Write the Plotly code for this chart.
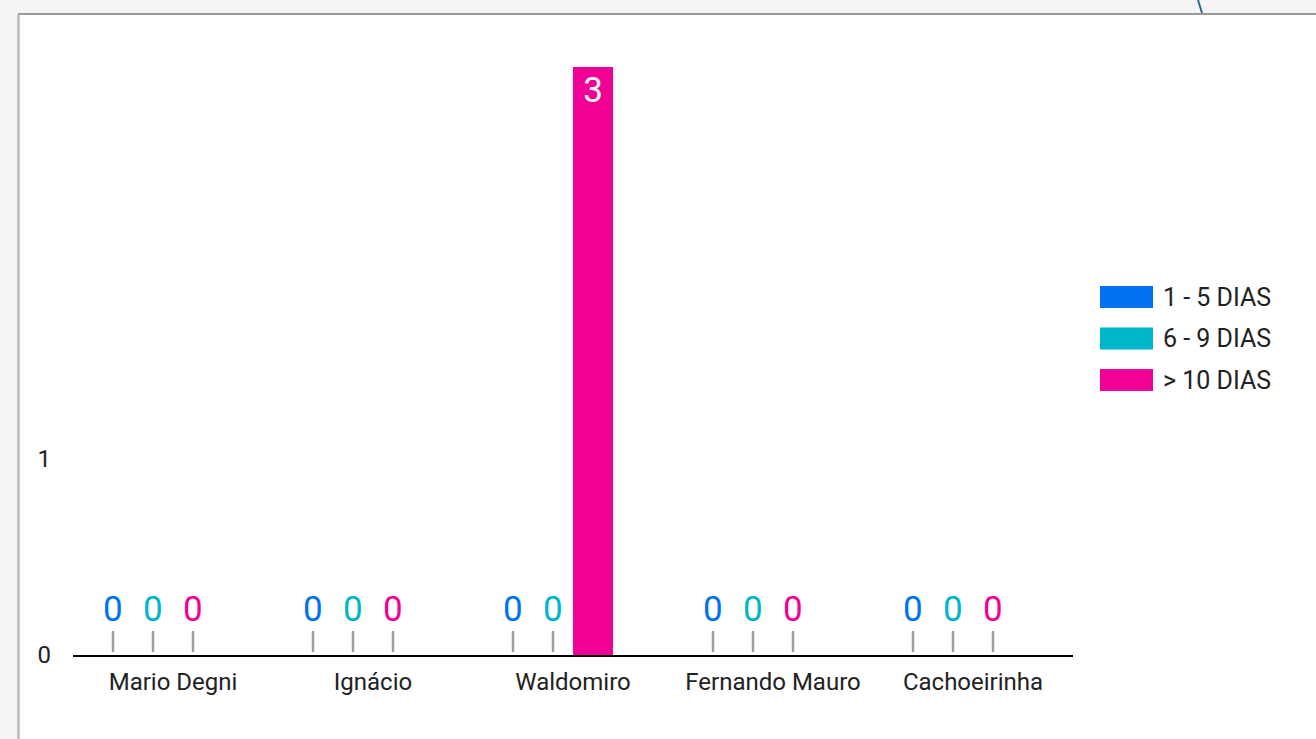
import plotly.graph_objects as go

# dados do painel
lojas = ["Mario Degni", "Ignácio", "Waldomiro", "Fernando Mauro", "Cachoeirinha"]
faixas = ["1 - 5 DIAS", "6 - 9 DIAS", "> 10 DIAS"]
dias_1_5 = [0, 0, 0, 0, 0]
dias_6_9 = [0, 0, 0, 0, 0]
dias_10_mais = [0, 0, 3, 0, 0]
cores = ["#0072f0", "#00b6cb", "#f10096"]

W, H = 1316, 739
L, R, T, B = 73, 243, 67, 84
FONT = "Roboto"


def px(x):
    return (x - L) / (W - L - R)


def py(y):
    return (H - B - y) / (H - T - B)


fig = go.Figure()
series = [dias_1_5, dias_6_9, dias_10_mais]
for nome, vals, cor in zip(faixas, series, cores):
    fig.add_trace(go.Bar(
        x=lojas, y=vals, name=nome, marker_color=cor, marker_line_width=0,
        text=[str(v) if v > 0 else "" for v in vals],
        textposition="inside", insidetextanchor="end",
        textfont=dict(color="white", size=35, family=FONT),
        showlegend=False,
    ))
# slot vazio (quarta serie sem dados)
fig.add_trace(go.Bar(x=lojas, y=[0] * len(lojas), marker_color="rgba(0,0,0,0)",
                     marker_line_width=0, showlegend=False, hoverinfo="skip"))

n_slots = 4
slot_px = 40
annotations = []
for k, (vals, cor) in enumerate(zip(series, cores)):
    for loja, v in zip(lojas, vals):
        if v == 0:
            annotations.append(dict(
                x=loja, y=0, xref="x", yref="y", text="0",
                xshift=(k - (n_slots - 1) / 2) * slot_px,
                font=dict(color=cor, size=35, family=FONT),
                showarrow=True, arrowhead=0, arrowwidth=2.5, arrowcolor="#9e9e9e",
                ax=0, ay=-46, standoff=3,
            ))

# legenda manual com blocos largos
shapes = []
for i, (nome, cor) in enumerate(zip(faixas, cores)):
    yc = 297 + i * 41.5
    shapes.append(dict(type="rect", xref="paper", yref="paper",
                       x0=px(1100), x1=px(1153), y0=py(yc + 11), y1=py(yc - 11),
                       fillcolor=cor, line_width=0))
    annotations.append(dict(xref="paper", yref="paper", x=px(1161), y=py(yc),
                            xanchor="left", yanchor="middle", text=nome, showarrow=False,
                            font=dict(size=25, color="#222222", family=FONT)))

# moldura do cartao
shapes += [
    dict(type="rect", xref="paper", yref="paper", x0=px(0), x1=px(W), y0=py(0), y1=py(14),
         fillcolor="#f4f4f4", line_width=0, layer="below"),
    dict(type="rect", xref="paper", yref="paper", x0=px(0), x1=px(18), y0=py(0), y1=py(H),
         fillcolor="#f4f4f4", line_width=0, layer="below"),
    dict(type="line", xref="paper", yref="paper", x0=px(18), x1=px(W), y0=py(14), y1=py(14),
         line=dict(color="#999999", width=2)),
    dict(type="line", xref="paper", yref="paper", x0=px(18.5), x1=px(18.5), y0=py(14), y1=py(H),
         line=dict(color="#bbbbbb", width=2.5)),
    dict(type="line", xref="paper", yref="paper", x0=px(1198), x1=px(1202), y0=py(0), y1=py(13),
         line=dict(color="#2b6a8c", width=2)),
]

fig.update_layout(
    width=W, height=H,
    margin=dict(l=L, r=R, t=T, b=B),
    paper_bgcolor="white", plot_bgcolor="white",
    template="none",
    barmode="group", bargap=0.2, bargroupgap=0,
    font=dict(family=FONT, color="#222222"),
    showlegend=False,
    shapes=shapes, annotations=annotations,
    xaxis=dict(range=[-0.5, len(lojas) - 0.5], showline=True, linecolor="black", linewidth=2,
               ticks="", showgrid=False, zeroline=False, ticklabelstandoff=4,
               tickfont=dict(size=24, color="#222222", family=FONT)),
    yaxis=dict(range=[0, 3], tickvals=[0, 1], showgrid=False, zeroline=False, showline=False,
               ticks="", ticklabelstandoff=21,
               tickfont=dict(size=24, color="#222222", family=FONT)),
)

fig.write_html("out.html", config={"displayModeBar": False},
               post_script="document.body.style.margin='0px';")
